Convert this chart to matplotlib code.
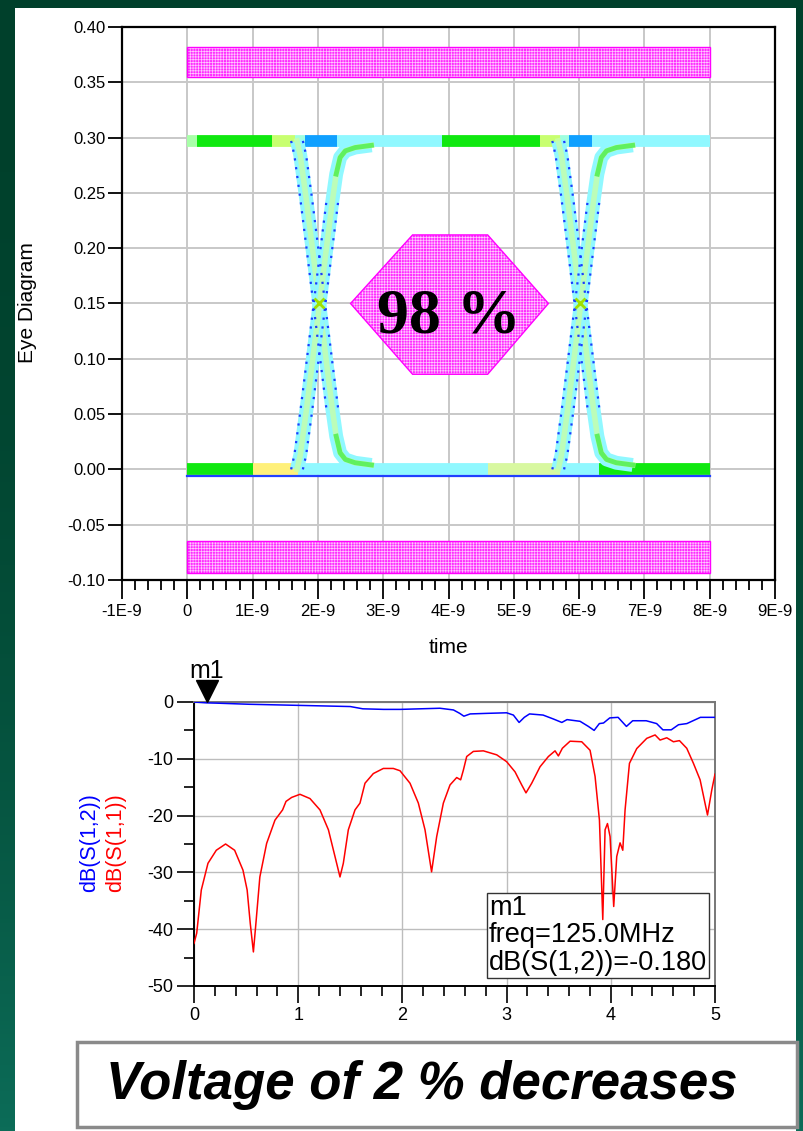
import numpy as np
import matplotlib
matplotlib.use("Agg")
import matplotlib.pyplot as plt
from matplotlib.patches import Rectangle, Polygon
from matplotlib.ticker import MultipleLocator
from matplotlib import transforms

plt.rcParams['font.family'] = ['Liberation Sans', 'DejaVu Sans']
plt.rcParams['hatch.linewidth'] = 0.5
plt.rcParams['axes.unicode_minus'] = False

# ---- eye diagram (time in ns, voltage in V) ----
eye_high = 0.297
eye_low = 0.0
eye_cross_t = [2.02, 6.02]
# falling edge, relative to the crossing point
edge_dt = [-0.34, -0.29, -0.2, -0.1, 0.0, 0.1, 0.2, 0.26, 0.32, 0.4, 0.55, 0.8]
edge_v = [0.297, 0.284, 0.245, 0.198, 0.150, 0.102, 0.055, 0.030, 0.015, 0.009, 0.006, 0.004]

top_seg_t0 = [0.0, 0.15, 1.3, 1.65, 1.8, 2.3, 3.9, 5.4, 5.7, 5.85, 6.2]
top_seg_t1 = [0.15, 1.3, 1.65, 1.8, 2.3, 3.9, 5.4, 5.7, 5.85, 6.2, 8.0]
top_seg_col = ['#a8ffa8', '#10e810', '#c8ff70', '#a0ffe0', '#10a0ff', '#90f8ff',
               '#10e810', '#c8ff70', '#a0ffe0', '#10a0ff', '#90f8ff']
bot_seg_t0 = [0.0, 1.0, 1.7, 4.6, 5.7, 6.3]
bot_seg_t1 = [1.0, 1.7, 4.6, 5.7, 6.3, 8.0]
bot_seg_col = ['#10e810', '#fff07a', '#90f8ff', '#d8f8a0', '#90f8ff', '#10e810']

mask_top = (0.0, 8.0, 0.355, 0.382)
mask_bot = (0.0, 8.0, -0.094, -0.065)
hex_t = [2.5, 3.45, 4.6, 5.53, 4.6, 3.45]
hex_v = [0.15, 0.212, 0.212, 0.15, 0.086, 0.086]
eye_label = '98 %'

eye_xticks = [-1, 0, 1, 2, 3, 4, 5, 6, 7, 8, 9]
eye_xlabels = ['-1E-9', '0', '1E-9', '2E-9', '3E-9', '4E-9', '5E-9', '6E-9', '7E-9', '8E-9', '9E-9']
eye_yticks = [-0.10, -0.05, 0.0, 0.05, 0.10, 0.15, 0.20, 0.25, 0.30, 0.35, 0.40]

# ---- S-parameters (freq in GHz, dB) ----
s11_f = [0.0, 0.026, 0.07, 0.134, 0.214, 0.303, 0.39, 0.47, 0.51, 0.54, 0.57, 0.594,
         0.632, 0.697, 0.777, 0.85, 0.883, 0.937, 1.017, 1.113, 1.209, 1.29, 1.353,
         1.401, 1.433, 1.481, 1.545, 1.593, 1.641, 1.721, 1.817, 1.913, 1.977, 2.073,
         2.153, 2.217, 2.28, 2.329, 2.393, 2.457, 2.521, 2.559, 2.585, 2.617, 2.681,
         2.777, 2.905, 3.0, 3.081, 3.145, 3.186, 3.241, 3.321, 3.401, 3.465, 3.497,
         3.535, 3.609, 3.721, 3.801, 3.849, 3.891, 3.923, 3.945, 3.968, 3.993, 4.028,
         4.057, 4.089, 4.115, 4.137, 4.179, 4.249, 4.345, 4.425, 4.473, 4.537, 4.601,
         4.659, 4.729, 4.793, 4.857, 4.928, 4.969, 5.0]
s11_db = [-42.5, -40.7, -33.1, -28.4, -26.1, -25.0, -26.1, -29.6, -33.1, -39.0, -44.0, -39.0,
          -30.8, -24.9, -20.8, -19.0, -17.5, -16.8, -16.25, -17.0, -19.0, -22.5, -27.2,
          -30.8, -28.4, -22.5, -19.0, -17.8, -14.3, -12.6, -11.7, -11.7, -12.1, -14.3,
          -17.8, -22.5, -29.9, -23.7, -17.8, -14.6, -13.3, -13.7, -12.0, -9.6, -8.7,
          -8.6, -9.3, -10.5, -12.3, -14.6, -16.0, -14.3, -11.4, -9.6, -8.6, -9.5,
          -8.15, -6.9, -7.0, -8.5, -13.1, -20.8, -38.3, -22.5, -21.4, -23.7, -36.0,
          -27.2, -24.8, -26.1, -19.0, -10.8, -8.2, -6.4, -5.8, -6.7, -6.3, -7.0,
          -6.8, -8.15, -10.8, -13.7, -19.9, -15.5, -12.7]
s21_f = [0.0, 0.12, 0.214, 0.53, 1.02, 1.5, 1.62, 1.82, 1.98, 2.17, 2.36, 2.49, 2.55,
         2.59, 2.65, 2.81, 3.0, 3.065, 3.12, 3.17, 3.22, 3.35, 3.45, 3.53, 3.58, 3.705,
         3.785, 3.84, 3.89, 3.93, 3.99, 4.07, 4.15, 4.21, 4.34, 4.44, 4.5, 4.58, 4.65,
         4.73, 4.86, 5.0]
s21_db = [0.0, -0.15, -0.2, -0.4, -0.6, -0.8, -1.2, -1.3, -1.3, -1.2, -1.1, -1.4, -2.0,
          -2.5, -2.1, -2.0, -1.9, -2.3, -3.6, -2.7, -2.1, -2.3, -3.0, -3.6, -3.1, -3.4,
          -4.3, -5.0, -3.8, -3.7, -2.8, -2.7, -4.3, -3.3, -3.3, -3.8, -4.9, -4.9, -4.0,
          -3.8, -2.7, -2.7]
marker_freq = 0.125
marker_db = -0.180
caption = 'Voltage of 2 % decreases'

W, H = 804, 1131
fig = plt.figure(figsize=(W / 100, H / 100), dpi=100)

# slide background: green gradient with white panel
bg = fig.add_axes([0, 0, 1, 1], zorder=-10)
grad = np.linspace(0, 1, 256)[:, None]
c_top = np.array([0x00, 0x40, 0x2b]) / 255
c_bot = np.array([0x0c, 0x6c, 0x58]) / 255
img = c_top[None, None, :] * (1 - grad[..., None] ** 2) + c_bot[None, None, :] * grad[..., None] ** 2
bg.imshow(img, extent=[0, 1, 0, 1], aspect='auto', origin='upper')
bg.add_patch(Rectangle((15 / W, 0), (796 - 15) / W, 1 - 8 / H, fc='white', ec='none'))
bg.set_xlim(0, 1)
bg.set_ylim(0, 1)
bg.axis('off')

# ---------------- eye diagram ----------------
ax1 = fig.add_axes([122 / W, 1 - 580 / H, (775 - 122) / W, (580 - 27) / H])
ax1.set_xlim(-1, 9)
ax1.set_ylim(-0.10, 0.40)


def mask_patch(ax, xy_poly):
    ax.add_patch(Polygon(xy_poly, closed=True, fc='#ff2cff', ec='#ffc8ff', lw=0,
                         hatch='++++++', zorder=2))
    ax.add_patch(Polygon(xy_poly, closed=True, fill=False, ec='#ff00ff', lw=1.0, zorder=2))


for t0, t1, v0, v1 in (mask_top, mask_bot):
    mask_patch(ax1, [(t0, v0), (t1, v0), (t1, v1), (t0, v1)])
mask_patch(ax1, list(zip(hex_t, hex_v)))
ax1.text(4.0, 0.124, eye_label, family=['Liberation Serif', 'DejaVu Serif'],
         fontsize=46, fontweight='bold', ha='center', va='baseline', zorder=6)

# plateaus
for t0, t1, c in zip(top_seg_t0, top_seg_t1, top_seg_col):
    ax1.plot([t0, t1], [eye_high, eye_high], color=c, lw=8.5, solid_capstyle='butt', zorder=3)
for t0, t1, c in zip(bot_seg_t0, bot_seg_t1, bot_seg_col):
    ax1.plot([t0, t1], [eye_low, eye_low], color=c, lw=8.5, solid_capstyle='butt', zorder=3)
ax1.plot([0, 8], [eye_low - 0.006, eye_low - 0.006], color='#2040ff', lw=1.6, zorder=3)

# transitions
dt = np.array(edge_dt)
fall = np.array(edge_v)
tail = dt >= 0.26
for tc in eye_cross_t:
    t = tc + dt
    for v in (fall, eye_high - fall):
        ax1.plot(t, v, color='#90f8ff', lw=10, solid_capstyle='butt', zorder=4)
        ax1.plot(t, v, color='#c8ffa8', lw=4, alpha=0.8, zorder=4)
        ax1.plot(t[tail], v[tail], color='#50ee50', lw=3.5, alpha=0.85, zorder=4)
        ax1.plot(t[~tail] - 0.09, v[~tail], color='#1a3cff', lw=1.6, ls=(0, (1, 3)), zorder=5)
        ax1.plot(t[~tail] + 0.09, v[~tail], color='#1a3cff', lw=1.6, ls=(0, (1, 3)), zorder=5)
    ax1.plot([tc], [0.15], marker='x', color='#a0e000', ms=7, mew=2, zorder=6)

ax1.set_xticks(eye_xticks)
ax1.set_xticklabels(eye_xlabels)
ax1.xaxis.set_minor_locator(MultipleLocator(0.2))
ax1.set_yticks(eye_yticks)
ax1.set_yticklabels(['%.2f' % y for y in eye_yticks])
ax1.tick_params(axis='both', which='major', direction='out', width=1.3, labelsize=12, color='black')
ax1.tick_params(axis='x', which='major', length=14, pad=3)
ax1.tick_params(axis='x', which='minor', length=7, width=1.3, direction='out')
ax1.tick_params(axis='y', which='major', length=10, pad=2)
ax1.grid(True, which='major', color='#c8c8c8', lw=1.4)
ax1.set_axisbelow(True)
for s in ax1.spines.values():
    s.set_linewidth(1.6)
    s.set_color('black')
fig.text(28 / W, 1 - 303 / H, 'Eye Diagram', rotation=90, fontsize=15, ha='center', va='center')
ax1.set_xlabel('time', fontsize=15)
ax1.xaxis.set_label_coords(0.5, -0.105)

# ---------------- S-parameters ----------------
ax2 = fig.add_axes([194 / W, 1 - 986 / H, (715 - 194) / W, (986 - 702) / H])
ax2.set_xlim(0, 5)
ax2.set_ylim(-50, 0)
ax2.plot(s21_f, s21_db, color='#0000ff', lw=1.1, zorder=4)
ax2.plot(s11_f, s11_db, color='#ff0000', lw=1.1, zorder=4)

ax2.set_xticks([0, 1, 2, 3, 4, 5])
ax2.xaxis.set_minor_locator(MultipleLocator(0.2))
ax2.set_yticks([-50, -40, -30, -20, -10, 0])
ax2.yaxis.set_minor_locator(MultipleLocator(5))
ax2.tick_params(axis='both', which='major', direction='out', length=12, width=1.2, labelsize=13, pad=3)
ax2.tick_params(axis='both', which='minor', direction='out', length=7, width=1.2)
ax2.grid(True, which='major', color='#bdbdbd', lw=1.0)
ax2.set_axisbelow(True)
ax2.spines['left'].set_color('black')
ax2.spines['bottom'].set_color('black')
ax2.spines['top'].set_color('#777777')
ax2.spines['right'].set_color('#777777')
for s in ax2.spines.values():
    s.set_linewidth(1.4)

fig.text(90 / W, 1 - 843 / H, 'dB(S(1,2))', rotation=90, color='#0000ff', fontsize=15.5,
         ha='center', va='center')
fig.text(116 / W, 1 - 843 / H, 'dB(S(1,1))', rotation=90, color='#ff0000', fontsize=15.5,
         ha='center', va='center')

tri = transforms.offset_copy(ax2.transData, fig=fig, x=0, y=11, units='dots')
ax2.plot([marker_freq], [0], marker='v', ms=16, color='black', transform=tri, clip_on=False, zorder=6)
ax2.annotate('m1', xy=(marker_freq, 0), xytext=(0, 24), textcoords='offset pixels',
             ha='center', va='baseline', fontsize=18, annotation_clip=False)
ax2.text(0.566, 0.035, 'm1\nfreq=%.1fMHz\ndB(S(1,2))=%.3f' % (marker_freq * 1000, marker_db),
         transform=ax2.transAxes, ha='left', va='bottom', fontsize=19.5, linespacing=1.08,
         bbox=dict(boxstyle='square,pad=0.08', fc='white', ec='#333333', lw=1.0), zorder=3)

# caption box
fig.patches.append(Rectangle((77 / W, 1 - 1127 / H), 720 / W, 85 / H, transform=fig.transFigure,
                             fc='white', ec='#8a8a8a', lw=2.5, zorder=1))
fig.text(422 / W, 1 - 1085 / H, caption, fontsize=38, fontweight='bold', fontstyle='italic',
         ha='center', va='center', zorder=2)

fig.savefig('out.png', dpi=100)
